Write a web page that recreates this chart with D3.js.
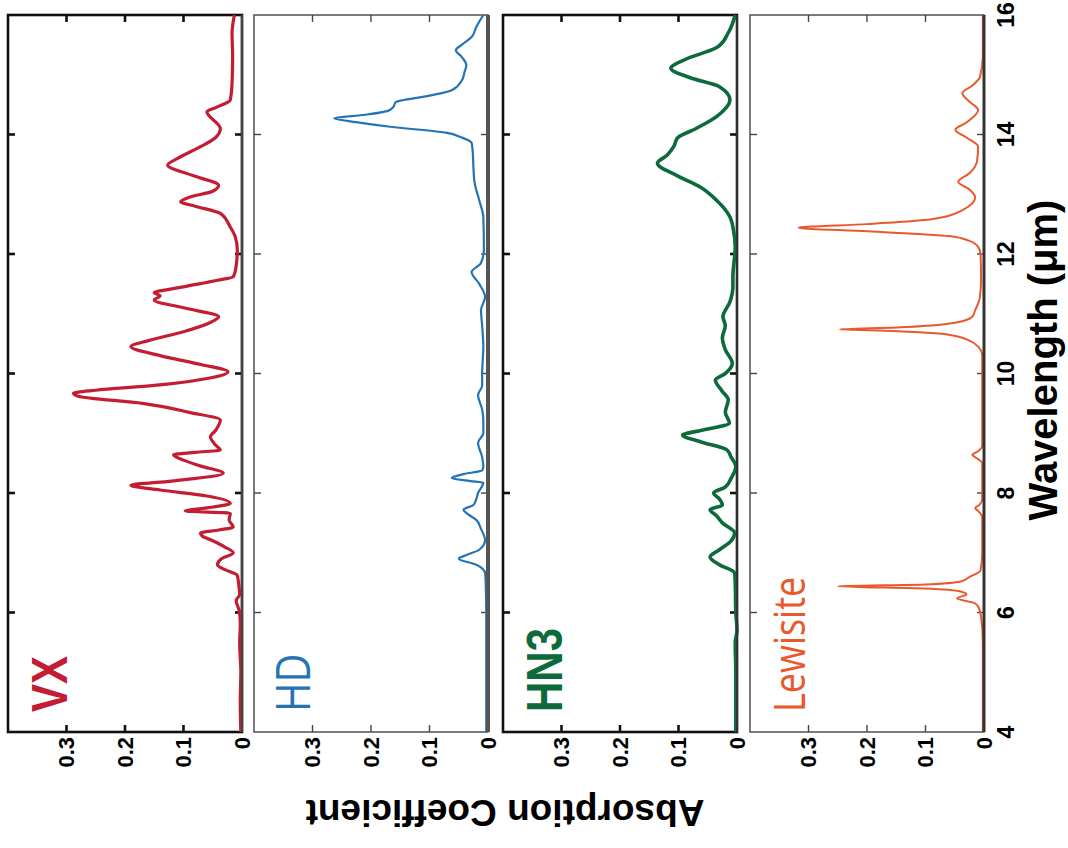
<!DOCTYPE html>
<html>
<head>
<meta charset="utf-8">
<script src="https://cdn.jsdelivr.net/npm/d3@7"></script>
<style>
  body { margin: 0; background: #fff; }
  svg { display: block; font-family: "Liberation Sans", Arial, sans-serif; }
</style>
</head>
<body>
<svg width="1068" height="848"></svg>
<script>
const width = 1068,
  height = 848;

// [wavelength (um), absorption coefficient]
const vxData = [
  [4.0, 0.002], [4.5, 0.003], [5.0, 0.002], [5.5, 0.004], [5.8, 0.003], [6.0, 0.004],
  [6.2, 0.01], [6.3, 0.004], [6.5, 0.006], [6.62, 0.008], [6.72, 0.03], [6.8, 0.042],
  [6.9, 0.035], [7.0, 0.015], [7.1, 0.03], [7.2, 0.05], [7.28, 0.068], [7.33, 0.071],
  [7.38, 0.04], [7.43, 0.015], [7.55, 0.022], [7.66, 0.02], [7.7, 0.097], [7.75, 0.06],
  [7.83, 0.02], [7.95, 0.06], [8.05, 0.14], [8.13, 0.19], [8.2, 0.12], [8.33, 0.032],
  [8.45, 0.07], [8.55, 0.1], [8.64, 0.117], [8.68, 0.08], [8.72, 0.037], [8.8, 0.045],
  [8.94, 0.054], [9.05, 0.045], [9.22, 0.037], [9.35, 0.09], [9.5, 0.17], [9.62, 0.28],
  [9.67, 0.288], [9.72, 0.25], [9.8, 0.15], [9.9, 0.07], [10.03, 0.024], [10.15, 0.07],
  [10.3, 0.14], [10.45, 0.19], [10.55, 0.16], [10.7, 0.1], [10.85, 0.055], [10.95, 0.04],
  [11.1, 0.1], [11.23, 0.15], [11.3, 0.14], [11.35, 0.15], [11.45, 0.1], [11.56, 0.042],
  [11.62, 0.015], [11.8, 0.01], [12.07, 0.008], [12.3, 0.012], [12.45, 0.02], [12.68, 0.037],
  [12.8, 0.08], [12.87, 0.105], [12.95, 0.09], [13.05, 0.05], [13.15, 0.04], [13.3, 0.08],
  [13.49, 0.127], [13.6, 0.11], [13.8, 0.07], [13.95, 0.045], [14.1, 0.037], [14.38, 0.06],
  [14.45, 0.045], [14.58, 0.02], [14.86, 0.017], [15.3, 0.016], [15.7, 0.017], [16.0, 0.013]
];

const hdData = [
  [4.0, 0.003], [5.0, 0.003], [5.5, 0.003], [6.0, 0.003], [6.5, 0.004], [6.66, 0.005],
  [6.8, 0.02], [6.9, 0.05], [6.95, 0.04], [7.05, 0.015], [7.21, 0.005], [7.4, 0.012],
  [7.55, 0.02], [7.65, 0.035], [7.72, 0.042], [7.8, 0.025], [7.9, 0.02], [8.0, 0.017],
  [8.17, 0.008], [8.2, 0.03], [8.25, 0.062], [8.32, 0.04], [8.38, 0.01], [8.44, 0.008],
  [8.6, 0.01], [8.84, 0.017], [9.0, 0.008], [9.2, 0.008], [9.4, 0.01], [9.64, 0.017],
  [9.8, 0.01], [10.0, 0.01], [10.45, 0.008], [10.8, 0.01], [11.06, 0.012], [11.28, 0.005],
  [11.5, 0.015], [11.7, 0.028], [11.85, 0.012], [12.07, 0.007], [12.62, 0.008], [12.9, 0.015],
  [13.2, 0.023], [13.46, 0.025], [13.7, 0.026], [13.86, 0.028], [13.95, 0.045], [14.03, 0.072],
  [14.13, 0.167], [14.2, 0.22], [14.27, 0.263], [14.33, 0.21], [14.4, 0.17], [14.46, 0.162],
  [14.54, 0.158], [14.65, 0.1], [14.74, 0.062], [14.9, 0.045], [15.05, 0.04], [15.16, 0.037],
  [15.3, 0.045], [15.41, 0.055], [15.5, 0.045], [15.63, 0.028], [15.8, 0.02], [16.0, 0.008]
];

const hn3Data = [
  [4.0, 0.002], [5.0, 0.002], [5.5, 0.003], [5.7, 0.0], [6.0, 0.002], [6.5, 0.003],
  [6.66, 0.004], [6.8, 0.03], [6.93, 0.046], [7.05, 0.03], [7.2, 0.01], [7.33, 0.004],
  [7.5, 0.025], [7.62, 0.035], [7.72, 0.046], [7.8, 0.025], [7.9, 0.03], [8.0, 0.04],
  [8.1, 0.02], [8.25, 0.01], [8.44, 0.002], [8.6, 0.01], [8.72, 0.017], [8.85, 0.06],
  [8.97, 0.093], [9.05, 0.06], [9.17, 0.013], [9.35, 0.02], [9.56, 0.015], [9.7, 0.025],
  [9.89, 0.037], [10.0, 0.02], [10.17, 0.008], [10.4, 0.02], [10.6, 0.025], [10.8, 0.02],
  [10.95, 0.024], [11.2, 0.012], [11.45, 0.007], [11.62, 0.007], [12.12, 0.003], [12.4, 0.006],
  [12.62, 0.012], [12.9, 0.035], [13.12, 0.063], [13.3, 0.1], [13.52, 0.136], [13.65, 0.12],
  [13.8, 0.108], [13.94, 0.102], [14.1, 0.07], [14.3, 0.035], [14.58, 0.012], [14.8, 0.03],
  [14.95, 0.08], [15.11, 0.113], [15.25, 0.09], [15.46, 0.034], [15.7, 0.015], [16.0, 0.003]
];

const lewisiteData = [
  [4.0, 0.002], [5.0, 0.002], [5.5, 0.002], [5.93, 0.005], [6.1, 0.01], [6.16, 0.017],
  [6.24, 0.046], [6.3, 0.03], [6.35, 0.04], [6.4, 0.1], [6.44, 0.25], [6.47, 0.1],
  [6.52, 0.04], [6.6, 0.024], [6.7, 0.006], [7.0, 0.003], [7.6, 0.003], [7.7, 0.01],
  [7.75, 0.015], [7.8, 0.008], [7.9, 0.003], [8.5, 0.003], [8.6, 0.015], [8.64, 0.02],
  [8.7, 0.01], [8.8, 0.003], [10.3, 0.003], [10.45, 0.01], [10.55, 0.025], [10.65, 0.06],
  [10.72, 0.18], [10.74, 0.247], [10.77, 0.15], [10.85, 0.05], [10.95, 0.02], [11.06, 0.015],
  [11.28, 0.007], [11.6, 0.005], [12.0, 0.006], [12.12, 0.01], [12.22, 0.025], [12.3, 0.06],
  [12.38, 0.2], [12.44, 0.317], [12.5, 0.2], [12.58, 0.09], [12.74, 0.036], [12.95, 0.015],
  [13.08, 0.025], [13.21, 0.044], [13.35, 0.025], [13.55, 0.012], [13.8, 0.01], [13.95, 0.03],
  [14.08, 0.049], [14.2, 0.03], [14.41, 0.01], [14.55, 0.025], [14.69, 0.037], [14.82, 0.02],
  [14.96, 0.007], [15.3, 0.002], [16.0, 0.002]
];

const seriesNames = ["VX", "HD", "HN3", "Lewisite"];
const wavelengthTicks = [4, 6, 8, 10, 12, 14, 16];
const absorptionTicks = [0, 0.1, 0.2, 0.3];

// look of each panel (the whole figure is turned a quarter turn to the left)
const panels = [
  { name: "VX", data: vxData, left: 8, color: "#c41d33", lw: 3.2, frame: "#111", fw: 2.6, zero: "#444", zw: 2.2,
    font: "bold 42px 'Liberation Sans', Arial, sans-serif", base: 67 },
  { name: "HD", data: hdData, left: 254, color: "#2474b5", lw: 2.2, frame: "#444", fw: 1.4, zero: "#555", zw: 4,
    font: "40px 'Open Sans', sans-serif", base: 310 },
  { name: "HN3", data: hn3Data, left: 503, color: "#0c6a3b", lw: 3.6, frame: "#111", fw: 2.6, zero: "#333", zw: 1.8,
    font: "bold 42px 'Liberation Sans', Arial, sans-serif", base: 562 },
  { name: "Lewisite", data: lewisiteData, left: 750, color: "#e9592c", lw: 2, frame: "#444", fw: 1.4, zero: "#333", zw: 3,
    font: "36px 'Open Sans', sans-serif", base: 805 }
];

const panelWidth = 234;

const ys = d3.scaleLinear().domain([4, 16]).range([732, 15]);

const svg = d3.select("svg");
svg.append("rect").attr("width", width).attr("height", height).attr("fill", "#fff");

panels.forEach(p => {
  const xs = d3.scaleLinear().domain([0, 0.4]).range([p.left + panelWidth, p.left]);
  const g = svg.append("g");

  g.append("rect")
    .attr("x", p.left)
    .attr("y", ys(16))
    .attr("width", panelWidth)
    .attr("height", ys(4) - ys(16))
    .attr("fill", "none")
    .attr("stroke", p.frame)
    .attr("stroke-width", p.fw);

  // wavelength ticks on both long edges
  const wt = wavelengthTicks.slice(1, -1);
  g.selectAll(".tl").data(wt).enter().append("line")
    .attr("x1", p.left).attr("x2", p.left + 7)
    .attr("y1", d => ys(d)).attr("y2", d => ys(d))
    .attr("stroke", p.frame).attr("stroke-width", p.fw);
  g.selectAll(".tr").data(wt).enter().append("line")
    .attr("x1", p.left + panelWidth).attr("x2", p.left + panelWidth - 7)
    .attr("y1", d => ys(d)).attr("y2", d => ys(d))
    .attr("stroke", p.frame).attr("stroke-width", p.fw);

  // absorption ticks on the short edges
  const at = absorptionTicks.slice(1);
  g.selectAll(".tt").data(at).enter().append("line")
    .attr("x1", d => xs(d)).attr("x2", d => xs(d))
    .attr("y1", ys(16)).attr("y2", ys(16) + 7)
    .attr("stroke", p.frame).attr("stroke-width", p.fw);
  g.selectAll(".tb").data(at).enter().append("line")
    .attr("x1", d => xs(d)).attr("x2", d => xs(d))
    .attr("y1", ys(4)).attr("y2", ys(4) - 7)
    .attr("stroke", p.frame).attr("stroke-width", p.fw);

  // spectrum
  const line = d3.line()
    .x(d => xs(d[1]))
    .y(d => ys(d[0]))
    .curve(d3.curveMonotoneY);

  g.append("path")
    .datum(d3.sort(p.data, d => ys(d[0])))
    .attr("d", line)
    .attr("fill", "none")
    .attr("stroke", p.color)
    .attr("stroke-width", p.lw)
    .attr("stroke-linejoin", "round");

  // zero edge
  g.append("line")
    .attr("x1", xs(0)).attr("x2", xs(0))
    .attr("y1", ys(16)).attr("y2", ys(4))
    .attr("stroke", p.zero).attr("stroke-width", p.zw);

  // absorption tick labels
  g.selectAll(".al").data(absorptionTicks).enter().append("text")
    .attr("transform", d => `translate(${xs(d)},737) rotate(-90)`)
    .attr("text-anchor", "end")
    .attr("dominant-baseline", "central")
    .style("font", "bold 22px 'Liberation Sans', Arial, sans-serif")
    .text(d => d === 0 ? "0" : d3.format(".1f")(d));

  // series name
  g.append("text")
    .attr("transform", `translate(${p.base},712) rotate(-90) scale(1,1.2)`)
    .attr("text-anchor", "start")
    .attr("fill", p.color)
    .style("font", p.font)
    .text(p.name);
});

// wavelength tick labels
svg.selectAll(".wl").data(wavelengthTicks).enter().append("text")
  .attr("transform", d => `translate(1006,${ys(d)}) rotate(-90)`)
  .attr("text-anchor", "middle")
  .attr("dominant-baseline", "central")
  .style("font", "bold 23px 'Liberation Sans', Arial, sans-serif")
  .text(d => d);

svg.append("text")
  .attr("transform", `translate(1057,360) rotate(-90)`)
  .attr("text-anchor", "middle")
  .style("font", "bold 40px 'Liberation Sans', Arial, sans-serif")
  .text("Wavelength (\u03bcm)");

svg.append("text")
  .attr("transform", `translate(505,800) rotate(180)`)
  .attr("text-anchor", "middle")
  .style("font", "bold 37px 'Liberation Sans', Arial, sans-serif")
  .text("Absorption Coefficient");
</script>
</body>
</html>
